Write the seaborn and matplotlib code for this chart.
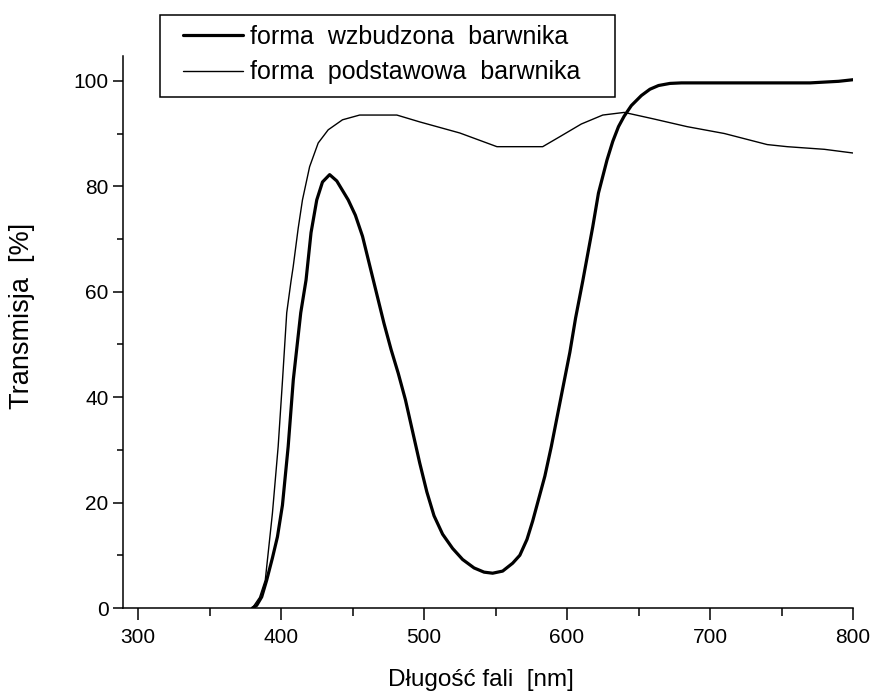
import pandas as pd
import matplotlib.pyplot as plt
import seaborn as sns
from matplotlib.ticker import MultipleLocator
from matplotlib.patches import Rectangle

# Values
wzbudzona_nm = [380, 383, 386.5, 390, 394, 397.5, 401, 405, 408.6, 413.8, 417.5, 421, 425, 429, 434,
                439, 447, 452, 457, 462, 467, 472, 477, 482, 487, 492, 497, 502, 507, 513,
                520, 527, 535, 542, 548, 555, 562, 567, 572, 576, 580, 584.5, 589, 594,
                598, 602, 606, 611, 618, 622, 628, 632, 636, 640, 645, 652, 658, 664, 672,
                680, 770, 790, 800]
wzbudzona_T = [0, 0.5, 2.1, 5.3, 9.5, 13.5, 19.5, 30.6, 43.3, 56, 62.2, 71.2, 77.4, 80.8, 82.2,
               81, 77.4, 74.5, 70.5, 65, 59.5, 54, 49, 44.5, 39.5, 33.5, 27.5, 22, 17.5, 14,
               11.3, 9.2, 7.6, 6.8, 6.6, 7, 8.5, 10, 13, 16.5, 20.5, 25, 30.6, 37.5,
               43, 48.5, 55, 62, 72.3, 78.7, 85, 88.5, 91.3, 93.3, 95.3, 97.2, 98.4, 99.1, 99.5,
               99.6, 99.6, 99.9, 100.2]

podstawowa_nm = [380, 385, 389, 394, 398, 401, 404, 407, 408.5, 412, 415, 420, 426, 433,
                 443, 455, 481, 497, 525, 551, 583, 595, 610, 625, 640, 660, 684, 710,
                 740, 754, 780, 800]
podstawowa_T = [0, 2, 5.3, 18, 30.6, 43, 56, 62, 64.7, 72, 77.4, 83.7, 88.2, 90.7,
                92.6, 93.5, 93.5, 92.2, 90.1, 87.5, 87.5, 89.4, 91.8, 93.5, 94, 92.8, 91.3, 90,
                87.9, 87.5, 87, 86.3]

labels = ['forma  wzbudzona  barwnika', 'forma  podstawowa  barwnika']
x_ticks = [300, 400, 500, 600, 700, 800]
y_ticks = [0, 20, 40, 60, 80, 100]

sns.set_style('ticks')
plt.rcParams['font.family'] = ['Liberation Sans', 'DejaVu Sans']
plt.rcParams['text.color'] = 'black'
plt.rcParams['axes.labelcolor'] = 'black'
plt.rcParams['xtick.color'] = 'black'
plt.rcParams['ytick.color'] = 'black'

W, H = 871, 693
fig = plt.figure(figsize=(W / 100, H / 100), dpi=100)
ax = fig.add_axes([123 / W, 1 - 608 / H, 730 / W, 552 / H])

df1 = pd.DataFrame({'nm': wzbudzona_nm, 'T': wzbudzona_T})
df2 = pd.DataFrame({'nm': podstawowa_nm, 'T': podstawowa_T})
sns.lineplot(data=df1, x='nm', y='T', ax=ax, color='black', linewidth=2.3,
             sort=False, label=labels[0])
sns.lineplot(data=df2, x='nm', y='T', ax=ax, color='black', linewidth=1.0,
             sort=False, label=labels[1])

ax.set_xlim(289.5, 800)
ax.set_ylim(0, 104.7)
ax.set_xticks(x_ticks)
ax.set_yticks(y_ticks)
ax.xaxis.set_minor_locator(MultipleLocator(50))
ax.yaxis.set_minor_locator(MultipleLocator(10))
sns.despine(ax=ax)
for s in ['left', 'bottom']:
    ax.spines[s].set_linewidth(1.1)
    ax.spines[s].set_color('black')

ax.tick_params(axis='x', which='major', length=8.5, width=1.1, labelsize=15, pad=6)
ax.tick_params(axis='x', which='minor', length=6, width=1.1)
ax.tick_params(axis='y', which='major', length=7.5, width=1.1, labelsize=15, pad=3)
ax.tick_params(axis='y', which='minor', length=4, width=1.1)

ax.set_xlabel('Długość fali  [nm]', fontsize=17.5)
ax.set_ylabel('Transmisja  [%]', fontsize=19.5)
ax.xaxis.set_label_coords(0.49, -0.11)
ax.yaxis.set_label_coords(-0.1205, 0.529)

# legend box drawn separately so its padding matches the reference
fig.patches.append(Rectangle((160 / W, 1 - 97 / H), 455 / W, 82 / H,
                             transform=fig.transFigure, fill=False,
                             edgecolor='black', linewidth=1.1))
leg = ax.legend(loc='upper left', bbox_to_anchor=(183 / W, 1 - 25 / H),
                bbox_transform=fig.transFigure, fontsize=18, frameon=False,
                handlelength=2.4, handletextpad=0.3, labelspacing=0.45,
                borderpad=0, borderaxespad=0)

plt.savefig('out.png', dpi=100)
